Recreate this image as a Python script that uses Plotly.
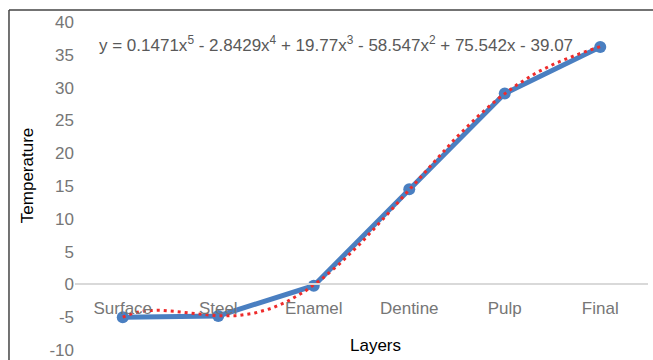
import numpy as np
import plotly.graph_objects as go

categories = ["Surface", "Steel", "Enamel", "Dentine", "Pulp", "Final"]
temperature = [-5.0, -4.8, -0.2, 14.5, 29.1, 36.2]
# trendline coefficients as displayed on the chart (highest power first)
trend_coeffs = [0.1471, -2.8429, 19.77, -58.547, 75.542, -39.07]
y_ticks = [-10, -5, 0, 5, 10, 15, 20, 25, 30, 35, 40]
y_ticktext = [str(v) for v in y_ticks]

idx = list(range(len(categories)))
t = np.linspace(1, len(categories), 200)
trend_y = np.polyval(trend_coeffs, t)

fig = go.Figure()
fig.add_trace(go.Scatter(
    x=idx, y=temperature, mode="lines+markers",
    line=dict(color="#4A7FC1", width=5),
    marker=dict(color="#4A7FC1", size=12),
    showlegend=False, cliponaxis=False,
))
fig.add_trace(go.Scatter(
    x=t - 1, y=trend_y, mode="lines",
    line=dict(color="#EE2B2B", width=3, dash="3px,4px"),
    showlegend=False,
))

font_family = "Liberation Sans, Arial, sans-serif"
fig.update_layout(
    width=653, height=360,
    margin=dict(l=75, r=5, t=22, b=10, autoexpand=False),
    paper_bgcolor="white", plot_bgcolor="white",
    font=dict(family=font_family, size=17, color="#767676"),
    xaxis=dict(
        range=[-0.5, 5.5], tickvals=idx, ticktext=categories,
        showgrid=False, zeroline=False, showline=True,
        linecolor="#D9D9D9", linewidth=1.5,
        anchor="free", position=0.2, ticks="",
        ticklabelstandoff=8, automargin=False,
        tickfont=dict(family=font_family, size=17, color="#767676"),
    ),
    yaxis=dict(
        range=[-10, 40], tickvals=y_ticks, ticktext=y_ticktext,
        showgrid=False, automargin=False,
        zeroline=False, showline=False, ticks="",
        tickfont=dict(family=font_family, size=17, color="#767676"),
    ),
    shapes=[
        dict(type="line", xref="paper", yref="paper",
             x0=-0.1152, x1=-0.1152, y0=-0.2, y1=1.0366,
             line=dict(color="#444444", width=1.5)),
        dict(type="line", xref="paper", yref="paper",
             x0=-0.1152, x1=1.1, y0=1.0366, y1=1.0366,
             line=dict(color="#444444", width=1.5)),
    ],
    annotations=[
        dict(text="y = 0.1471x<sup>5</sup> - 2.8429x<sup>4</sup> + 19.77x<sup>3</sup> - 58.547x<sup>2</sup> + 75.542x - 39.07",
             xref="paper", yref="paper", x=0.0384, y=0.9328,
             xanchor="left", yanchor="middle", showarrow=False,
             font=dict(family=font_family, size=17, color="#595959")),
        dict(text="Temperature", xref="paper", yref="paper",
             x=-0.0838, y=0.533, textangle=-90, showarrow=False,
             xanchor="center", yanchor="middle",
             font=dict(family=font_family, size=17, color="#000000")),
        dict(text="Layers", xref="paper", yref="paper",
             x=0.525, y=0.0137, showarrow=False,
             xanchor="center", yanchor="middle",
             font=dict(family=font_family, size=17, color="#000000")),
    ],
)

fig.write_html("out.html", config={"displayModeBar": False},
               post_script="document.body.style.margin='0';")
